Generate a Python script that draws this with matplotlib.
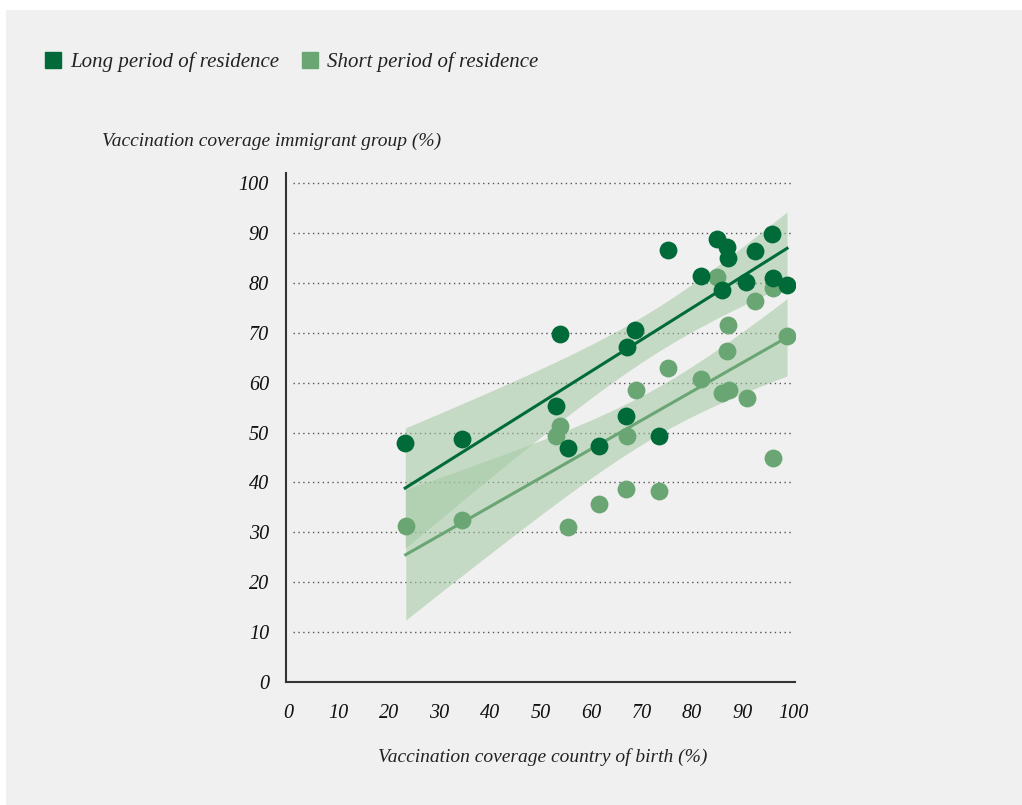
import matplotlib.pyplot as plt
import numpy as np
from matplotlib.lines import Line2D
from matplotlib.patches import Rectangle

# vaccination coverage (%) - country of birth (x) vs immigrant group (y)
long_x = [23.2, 34.5, 53.9, 53.1, 55.4, 61.6, 67.1, 68.7, 66.9, 73.5, 75.2,
          81.8, 85.0, 86.9, 87.1, 85.9, 90.7, 92.5, 95.8, 96.0, 98.8]
long_y = [47.9, 48.7, 69.8, 55.4, 46.9, 47.3, 67.2, 70.6, 53.4, 49.3, 86.7,
          81.4, 88.9, 87.3, 85.1, 78.6, 80.2, 86.5, 89.9, 81.0, 79.6]

short_x = [23.3, 34.5, 53.9, 53.1, 55.4, 61.6, 66.9, 67.1, 68.8, 73.5, 75.3,
           81.8, 85.0, 85.9, 87.0, 87.2, 87.4, 90.8, 92.5, 96.0, 96.1, 98.8]
short_y = [31.3, 32.4, 51.4, 49.3, 31.0, 35.7, 38.7, 49.3, 58.6, 38.2, 62.9,
           60.7, 81.2, 58.0, 66.4, 71.5, 58.6, 57.0, 76.3, 79.0, 44.9, 69.4]

ticks = [0, 10, 20, 30, 40, 50, 60, 70, 80, 90, 100]

dark = '#006b38'
light = '#6aa673'
band = '#a3c9a3'
bg = '#f0f0f0'
serif = 'Liberation Serif'


def fit_band(x, y, t=2.09):
    x = np.asarray(x)
    y = np.asarray(y)
    b, a = np.polyfit(x, y, 1)
    xs = np.linspace(x.min(), x.max(), 50)
    res = y - (a + b * x)
    s = np.sqrt(np.sum(res ** 2) / (len(x) - 2))
    sxx = np.sum((x - x.mean()) ** 2)
    se = s * np.sqrt(1 / len(x) + (xs - x.mean()) ** 2 / sxx)
    yhat = a + b * xs
    return xs, yhat, yhat - t * se, yhat + t * se


fig = plt.figure(figsize=(10.22, 8.05), dpi=100, facecolor='white')
fig.patches.append(Rectangle((6 / 1022, 0), 1, 1 - 10 / 805, transform=fig.transFigure,
                             facecolor=bg, edgecolor='none', zorder=-10))
ax = fig.add_axes([0.2796, 0.1528, 0.4984, 0.632])
ax.set_facecolor(bg)

for xv, yv, col in [(short_x, short_y, light), (long_x, long_y, dark)]:
    xs, yh, lo, hi = fit_band(xv, yv)
    ax.fill_between(xs, lo, hi, color=band, alpha=0.55, linewidth=0, zorder=1)
    ax.plot(xs, yh, color=col, lw=2.2, zorder=2)

ax.scatter(short_x, short_y, s=165, color=light, linewidths=0, zorder=3)
ax.scatter(long_x, long_y, s=165, color=dark, linewidths=0, zorder=4)

# dotted grid lines
ax.hlines(ticks[1:], 1, 100, colors='#555555', linestyles=(0, (1, 2.5)), lw=1, zorder=0)

ax.set_xlim(-0.45, 100.4)
ax.set_ylim(0, 102)
ax.set_xticks(ticks)
ax.set_yticks(ticks)
ax.tick_params(length=0, labelsize=14.5)
ax.tick_params(axis='x', pad=16)
ax.tick_params(axis='y', pad=12)
for lab in ax.get_xticklabels() + ax.get_yticklabels():
    lab.set_fontfamily(serif)
    lab.set_fontstyle('italic')
    lab.set_color('#111111')

for side in ['top', 'right']:
    ax.spines[side].set_visible(False)
for side in ['left', 'bottom']:
    ax.spines[side].set_color('#333333')
    ax.spines[side].set_linewidth(1.5)

fig.text(102 / 1022, 1 - 141 / 805, 'Vaccination coverage immigrant group (%)',
         family=serif, style='italic', fontsize=14, color='#222222', va='center')
fig.text(543 / 1022, 1 - 757 / 805, 'Vaccination coverage country of birth (%)',
         family=serif, style='italic', fontsize=14, color='#222222', va='center', ha='center')

handles = [Line2D([], [], marker='s', ls='none', markersize=12, color=dark),
           Line2D([], [], marker='s', ls='none', markersize=12, color=light)]
leg = fig.legend(handles, ['Long period of residence', 'Short period of residence'],
                 loc='center left', bbox_to_anchor=(24 / 1022, 1 - 62 / 805), ncol=2,
                 frameon=False, handletextpad=0.3, columnspacing=1.0, handlelength=1,
                 prop={'family': serif, 'style': 'italic', 'size': 15})
for t in leg.get_texts():
    t.set_color('#222222')

fig.savefig('out.png', dpi=100, facecolor=fig.get_facecolor())
